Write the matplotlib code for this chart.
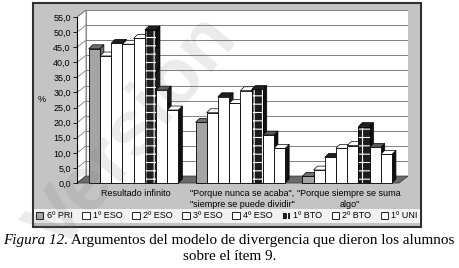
import matplotlib
matplotlib.use("Agg")
import matplotlib.pyplot as plt
import numpy as np
from matplotlib.patches import Rectangle, Polygon, Patch

plt.rcParams["font.family"] = ["Liberation Sans", "DejaVu Sans"]
plt.rcParams["hatch.linewidth"] = 0.8

# data: % of students per argument and school level
categories = ["Resultado infinito",
              "\"Porque nunca se acaba\",\n\"siempre se puede dividir\"",
              "\"Porque siempre se suma\nalgo\""]
levels = ["6º PRI", "1º ESO", "2º ESO", "3º ESO", "4º ESO", "1º BTO", "2º BTO", "1º UNI"]
resultado_infinito = [44.5, 42.1, 46.3, 46.0, 47.9, 50.7, 30.8, 24.2]
nunca_se_acaba = [20.1, 23.3, 28.6, 26.4, 30.6, 31.0, 15.9, 11.5]
siempre_se_suma = [2.2, 4.3, 8.5, 11.5, 12.4, 18.7, 11.8, 9.5]
yticks = np.arange(0, 56, 5)

values = np.array([resultado_infinito, nunca_se_acaba, siempre_se_suma])

# styles per level (front / top / side faces, hatch)
face = ["#a4a4a4", "white", "white", "white", "white", "#1c1c1c", "white", "white"]
top = ["#6e6e6e", "white", "#202020", "white", "white", "#202020", "#5a5a5a", "white"]
side = ["#6e6e6e", "white", "#202020", "white", "white", "#101010", "#101010", "#101010"]
hatch = [None, None, None, None, None, "++", None, None]

W, H = 460, 268
fig = plt.figure(figsize=(W / 100, H / 100), dpi=100)

# gray chart box
fig.patches.append(Rectangle((33 / W, 1 - 227 / H), 388 / W, 224 / H,
                             transform=fig.transFigure, facecolor="#c4c4c4",
                             edgecolor="#303030", lw=1.5, zorder=-5))

ax = fig.add_axes([77 / W, 1 - 184.5 / H, 331 / W, 176.5 / H])
ax.set_zorder(1)
ax.set_facecolor("none")
xl, xr = -0.55, 2.55
ax.set_xlim(xl, xr)
ax.set_ylim(-0.5, 58)

# pseudo 3D depth (back wall) and bar depth
dxw, dyw = 0.084, 2.3
dx, dy = 0.037, 1.3

# back wall, side wall, floor
ax.add_patch(Polygon([(xl + dxw, dyw), (xr, dyw), (xr, 55 + dyw), (xl + dxw, 55 + dyw)],
                     closed=True, facecolor="white", edgecolor="#808080", lw=0.6, zorder=1))
ax.add_patch(Polygon([(xl, 0), (xl + dxw, dyw), (xl + dxw, 55 + dyw), (xl, 55)],
                     closed=True, facecolor="white", edgecolor="#808080", lw=0.6, zorder=1))
for v in yticks:
    ax.plot([xl + dxw, xr], [v + dyw, v + dyw], color="#808080", lw=0.7, zorder=1.5)
    ax.plot([xl, xl + dxw], [v, v + dyw], color="#808080", lw=0.6, zorder=1.5)
ax.add_patch(Polygon([(xl, 0), (xr - dxw, 0), (xr, dyw), (xl + dxw, dyw)],
                     closed=True, facecolor="#6a6a6a", edgecolor="#404040", lw=0.6, zorder=2))

# bars
w = 0.105
for g in range(len(categories)):
    for i in range(len(levels)):
        x0 = g - 0.44 + i * w
        h = values[g, i]
        z = 3 + i * 0.1
        ax.add_patch(Polygon([(x0 + w, 0), (x0 + w + dx, dy), (x0 + w + dx, h + dy), (x0 + w, h)],
                             closed=True, facecolor=side[i], edgecolor="black", lw=0.5, zorder=z))
        ax.add_patch(Polygon([(x0, h), (x0 + w, h), (x0 + w + dx, h + dy), (x0 + dx, h + dy)],
                             closed=True, facecolor=top[i], edgecolor="black", lw=0.5, zorder=z))
        if hatch[i]:
            ax.bar(x0, h, w, align="edge", color=face[i], edgecolor="white",
                   hatch=hatch[i], lw=0, zorder=z + 0.01)
            ax.bar(x0, h, w, align="edge", fill=False, edgecolor="black", lw=0.6, zorder=z + 0.02)
        else:
            ax.bar(x0, h, w, align="edge", color=face[i], edgecolor="black", lw=0.6, zorder=z + 0.01)

for s in ["top", "right", "bottom"]:
    ax.spines[s].set_visible(False)
ax.spines["left"].set_bounds(0, 55)
ax.spines["left"].set_linewidth(0.8)
ax.spines["left"].set_zorder(5)
ax.set_yticks(yticks)
ax.set_yticklabels([f"{v:.1f}".replace(".", ",") for v in yticks])
ax.tick_params(axis="y", length=3, width=0.6, labelsize=6.5, pad=1.5)
ax.set_xticks(range(len(categories)))
ax.set_xticklabels(categories, fontsize=6.5, linespacing=1.3)
ax.tick_params(axis="x", length=0, pad=3)

fig.text(42 / W, 1 - 100 / H, "%", fontsize=6.5, ha="center", va="center")

# legend strip
handles = [Patch(facecolor=face[i], edgecolor="white" if hatch[i] else "black",
                 hatch=hatch[i], lw=0.6) for i in range(len(levels))]
leg = fig.legend(handles, levels, loc="center", ncol=8, mode="expand",
                 bbox_to_anchor=(34 / W, 1 - 224 / H, 386 / W, 16 / H),
                 frameon=True, fancybox=False, facecolor="#f2f2f2", edgecolor="none",
                 fontsize=6.5, handlelength=0.8, handleheight=0.8, handletextpad=0.35,
                 borderaxespad=0, borderpad=0.25, columnspacing=0.5)
leg.get_frame().set_alpha(1)

# caption
serif = ["Liberation Serif", "DejaVu Serif"]
t1 = fig.text(3 / W, 1 - 247 / H, "Figura 12.", family=serif, style="italic",
              fontsize=10.9, va="bottom")
ax.annotate(" Argumentos del modelo de divergencia que dieron los alumnos",
            xy=(1, 0), xycoords=t1, va="bottom", ha="left", family=serif, fontsize=10.9,
            annotation_clip=False)
fig.text(0.5, 1 - 257 / H, "sobre el ítem 9.", family=serif, fontsize=10.9,
         ha="center", va="center")

# faint watermark
fig.text(0.29, 0.5, "Versión", rotation=50, fontsize=56, fontweight="bold",
         color="#777777", alpha=0.15, ha="center", va="center", zorder=10)

fig.savefig("out.png", dpi=100)
